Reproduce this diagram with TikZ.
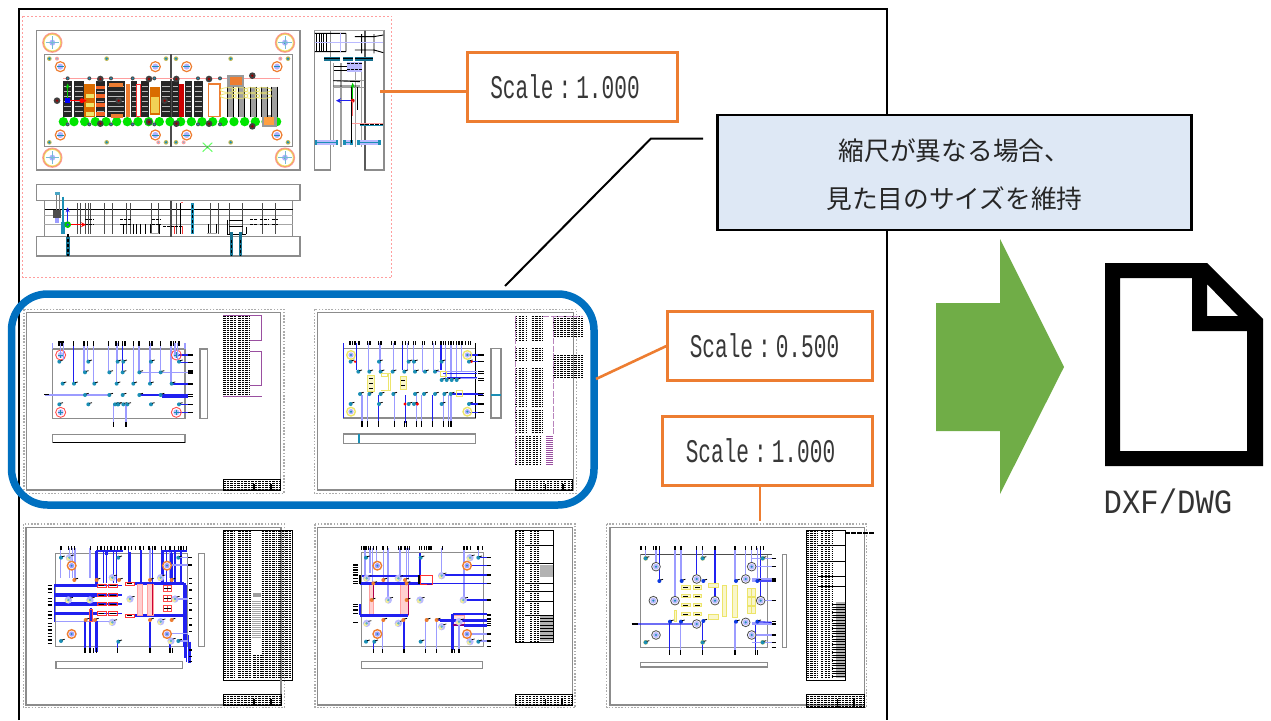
\documentclass[tikz,border=0pt]{standalone}
\usepackage{fontspec}
\usetikzlibrary{arrows.meta}
\newfontfamily\jpfont{Noto Sans CJK JP}
\newfontfamily\gothic[FakeStretch=0.64]{Liberation Mono}
\newfontfamily\gothicw[FakeStretch=0.9]{Liberation Mono}
\definecolor{orangeb}{HTML}{ED7D31}
\definecolor{blueb}{HTML}{0070C0}
\definecolor{paleb}{HTML}{DEE8F5}
\definecolor{greena}{HTML}{70AD47}
\definecolor{tealc}{HTML}{1B8FB5}
\definecolor{leadl}{HTML}{9C9CFF}
\definecolor{leadd}{HTML}{2020F0}
\definecolor{pinkl}{HTML}{FF9E9E}
\definecolor{yelc}{HTML}{EDE56B}
\definecolor{purp}{HTML}{9A4FA0}
\definecolor{gsh}{HTML}{8C8C8C}
\tikzset{
  scalebox/.style={draw=orangeb,line width=3pt,fill=white,minimum height=69pt,outer sep=0pt,inner sep=0pt,font=\fontsize{33}{36}\selectfont\gothic,text=black!78},
  orangeline/.style={draw=orangeb,line width=2.6pt},
  shdash/.style={draw=gray!65,line width=1.1pt,dash pattern=on 1.6pt off 1.6pt},
  shline/.style={draw=gsh,line width=1.5pt},
  tbrow/.style={draw=black,line width=.95pt,dash pattern=on 2.4pt off 1.1pt},
  ll/.style={draw=leadl,line width=1.1pt},
  ld/.style={draw=leadd,line width=1.1pt},
  lt/.style={draw=leadd,line width=2.4pt},
  lbl/.style={draw=black,line width=1.6pt},
  yb/.style={draw=yelc,line width=.9pt,fill=yelc!35},
}
\newcommand{\tblk}[4]{\pgfmathtruncatemacro\tba{#2+6}\foreach \r in {#2,\tba,...,#4}{\draw[tbrow] (#1,\r)--(#3,\r);}}
\newcommand{\tkd}[3][tealc]{\fill[#1] (#2,#3) circle[radius=6];\draw[black,line width=.8pt] (#2+3,#3-3)--(#2+11,#3-5);}
\newcommand{\pald}[2]{\fill[leadl!70] (#1,#2) circle[radius=11];\fill[yelc!70] (#1-3,#2+3) circle[radius=6];\fill[tealc!70] (#1,#2) circle[radius=4];\draw[black,line width=.7pt] (#1+5,#2-6)--(#1+14,#2-8);}
\newcommand{\ring}[2]{\draw[orangeb,line width=1.4pt,fill=white] (#1,#2) circle[radius=13];\fill[leadl] (#1,#2) circle[radius=8];\fill[tealc] (#1,#2) circle[radius=3];}
\newcommand{\sheetf}[8]{\draw[shdash] (#1,#2) rectangle (#3,#4);\draw[shline] (#5,#6) rectangle (#7,#8);}
\newcommand{\ttlb}[4]{\draw[black,line width=.7pt] (#1,#2) rectangle (#3,#4);\tblk{#1}{#2}{#3}{#4}\draw[black,line width=1.6pt] (#1+92,#2+14)--(#1+92,#4);\draw[black,line width=2pt] (#3-30,#2+16)--(#3-30,#4);}
\begin{document}
\begin{tikzpicture}[x=1pt,y=-1pt]
\path[use as bounding box] (0,0) rectangle (1271,720);
% outer frame
\draw[black,line width=2pt] (19,720)--(19,9)--(887,9)--(887,720);

% ---------- top assembly drawing
\begin{scope}[shift={(20,10)},scale=1/3]
\draw[pinkl,line width=1pt,dash pattern=on 2pt off 2pt] (8,18) rectangle (1116,803);
\draw[gsh,line width=1.3pt] (50,62) rectangle (840,480);
\draw[gsh,line width=1.3pt] (73,133) rectangle (818,410);
\draw[gray!60!black,line width=1.4pt] (453,133)--(453,410);
\draw[pinkl,line width=.8pt] (130,205)--(780,205);
\foreach \x in {130,162,...,780}{\fill[green!90!black] (\x,335) circle[radius=14];}
% columns
\foreach \a/\b in {128/157,163/192,228/256,262/316,333/350,364/386,423/452,455/478,494/517,522/548}{\fill[black!85] (\a,212) rectangle (\b,322);\foreach \q in {230,245,...,315}{\draw[gray!55,line width=.8pt] (\a+3,\q)--(\b-3,\q);}}
\fill[orange!85!black] (193,222) rectangle (226,322);
\foreach \q in {258,285,312}{\fill[yelc] (197,\q-7) rectangle (223,\q+7);}
\foreach \q in {232,258,285,312}{\fill[orangeb!80!red] (228,\q-5) rectangle (256,\q+5);}
\fill[orangeb] (268,220) rectangle (308,232);\fill[orangeb] (272,312) rectangle (308,325);
\fill[orangeb] (318,222) rectangle (330,322);
\draw[red!80,line width=1pt,fill=white] (350,222) rectangle (362,320);
\fill[orange!85!black] (390,230) rectangle (420,315);\fill[yelc!80!orange] (394,260) rectangle (416,310);
\fill[red!80!black] (478,222) rectangle (492,322);
\draw[orangeb,line width=1.4pt,fill=white] (565,222) rectangle (600,320);
\fill[gray!80] (622,195) rectangle (672,230);\fill[orangeb] (630,200) rectangle (665,225);
\fill[gray!80] (725,315) rectangle (770,350);\fill[orange!75] (732,322) rectangle (763,345);
\foreach \x in {622,655,690,725,755}{\fill[gray!75] (\x,230) rectangle (\x+18,320);\draw[black,line width=.6pt] (\x,230)--(\x,320) (\x+18,230)--(\x+18,320);}
\foreach \x/\y in {625/240,660/240,695/240,730/240,625/258,660/258,695/258,730/258}{\draw[yelc,line width=.8pt] (\x,\y) ellipse [x radius=24,y radius=7];}
\foreach \x in {143,208,273,338,403,469,534,600}{\fill[black!70] (\x,205) circle[radius=6];\fill[tealc] (\x,205) circle[radius=3];\fill[black!70] (\x,343) circle[radius=6];\fill[tealc] (\x,343) circle[radius=3];}
\foreach \x/\y in {241/207,387/207,469/207,567/207,697/197,241/341,387/336,469/341,567/341,697/349,111/272,296/272,434/272}{\fill[black!75] (\x,\y) circle[radius=10];\fill[red!60!black] (\x,\y) circle[radius=4];}
% dowels
\foreach \x in {88,260,438,468,632,804}{\foreach \yy in {146,397}{\fill[yelc!80!black] (\x,\yy) circle[radius=7];\fill[tealc] (\x,\yy) circle[radius=4];}}
\foreach \x/\y in {111/146,781/146,415/397,491/397}{\fill[pinkl] (\x,\y) circle[radius=6];\fill[tealc!60] (\x,\y) circle[radius=2.5];}
% guide bushes
\foreach \x in {121,406,500,771}{\foreach \y in {170,375}{\draw[orangeb,line width=1.2pt,fill=white] (\x,\y) circle[radius=15];\fill[leadl!80] (\x,\y) circle[radius=9];\draw[tealc,line width=.8pt] (\x-10,\y)--(\x+10,\y);}}
% corner circles
\foreach \x in {97,795}{\foreach \y in {98,443}{\draw[pinkl,line width=1pt] (\x,\y) circle[radius=29];\draw[yelc,line width=1pt] (\x,\y) circle[radius=25];\draw[orangeb!80,line width=.6pt] (\x,\y) circle[radius=27];\fill[leadl!80] (\x,\y) circle[radius=9];\fill[tealc] (\x,\y) circle[radius=4];\draw[tealc!60,line width=.5pt] (\x-20,\y)--(\x+20,\y) (\x,\y-20)--(\x,\y+20);}}
\draw[green!60,line width=1pt] (548,398)--(577,425) (548,425)--(577,398);
\fill[green!60!black!70] (562,411) circle[radius=4];
% axes
\fill[blue] (136,265) rectangle (150,279);
\draw[green!80!black,line width=1.6pt,-{Stealth[length=5pt,width=4pt]}] (143,265)--(143,220);
\draw[red,line width=1.6pt,-{Stealth[length=5pt,width=5pt]}] (150,272)--(200,272);
\fill[red] (185,272) circle[radius=7];
% side view
\draw[gsh,line width=1.3pt] (883,62) rectangle (932,480);
\draw[gsh,line width=1.3pt] (1035,62) rectangle (1092,480);
\draw[gray!75,line width=.8pt] (883,62)--(1092,62) (940,160)--(940,410) (960,160)--(960,410) (965,160)--(965,410) (1005,160)--(1005,410) (1025,160)--(1025,410) (940,212)--(1035,212) (940,232)--(1035,232);
\draw[black,line width=.9pt] (1035,62)--(1035,480) (885,70)--(978,70) (885,125)--(978,125) (978,70)--(978,125) (1005,80)--(1060,80) (1005,120)--(1060,120) (1025,72)--(1025,130) (1062,72)--(1062,130) (1062,80)--(1090,75) (1062,120)--(1090,128);
\foreach \x in {890,898,905,912,920}{\draw[black,line width=1pt] (\x,70)--(\x,125);}
\draw[leadl!70,line width=.8pt] (885,98)--(1090,98);\draw[leadl!70,line width=.8pt] (960,70)--(960,125);
\foreach \a/\b in {912/960,970/1000,1005/1060}{\fill[tealc!80!black] (\a,141) rectangle (\b,152);\draw[black,line width=.5pt] (\a,146)--(\b,146);}
\foreach \y in {168,182}{\draw[black,line width=1pt] (942,\y)--(1025,\y);}
\fill[leadl!70] (980,155) rectangle (1025,185);\draw[black,line width=1pt,dash pattern=on 3pt off 1pt] (980,160)--(1025,160) (980,178)--(1025,178);
\draw[black,line width=.9pt] (940,212)--(1020,215) (940,228)--(1020,228);
\draw[pinkl,line width=.8pt] (993,340)--(1090,340);
\draw[black,line width=1pt,dash pattern=on 4pt off 1pt] (1020,344)--(1090,344);\draw[tealc,line width=.8pt] (1020,347)--(1090,347);
\foreach \a/\b in {885/955,970/998,1012/1082}{\fill[leadl!70] (\a,391) rectangle (\b,404);\draw[tealc,line width=.8pt] (\a,397)--(\b,397);\fill[tealc] (\a,391) rectangle (\a+7,404);\fill[tealc] (\b-7,391) rectangle (\b,404);}
\draw[black,line width=.8pt] (995,232)--(995,400) (1012,232)--(1012,300);
\draw[leadd,line width=1.6pt,-{Stealth[length=5pt,width=5pt]}] (998,272)--(948,272);
\draw[green!80!black,line width=1.6pt,-{Stealth[length=5pt,width=4pt]}] (998,272)--(998,218);
\fill[red!85!black] (998,272) circle[radius=6];
\draw[red!60,line width=.6pt] (998,272)--(998,318);
% front view
\draw[gsh,line width=1.3pt] (50,523) rectangle (840,572);
\draw[gsh,line width=1.3pt] (50,680) rectangle (840,738);
\draw[gsh,line width=1pt] (73,572) rectangle (818,680);
\draw[gray!70,line width=.8pt] (73,615)--(818,615) (73,643)--(818,643);
\draw[black,line width=1.1pt] (75,598)--(818,598);
\draw[gray!60!black,line width=1.4pt] (453,572)--(453,680);
\foreach \x in {172,180,195,205,212,252,278,318,330,395,415,470,572,596,628,668,727,766}{\draw[black!70,line width=.7pt] (\x,580)--(\x,672);}
\foreach \a/\b in {195/222,300/335,395/420,720/745,690/710,755/775}{\draw[black,line width=1pt,dash pattern=on 3pt off 1pt] (\a,630)--(\b,630) (\a,645)--(\b,645);}
\foreach \a in {310,340,350,360,375,392,418,565,590}{\draw[black,line width=.8pt] (\a,643)--(\a,672);}
\draw[gray!70,line width=.8pt] (390,670)--(418,670) (562,670)--(590,670);
\draw[black,line width=1.2pt,dash pattern=on 3pt off 1pt] (430,650)--(490,650);
\draw[red!80,line width=1pt] (462,648)--(462,672);\draw[red!80,line width=1.2pt] (488,648)--(488,672);\draw[black,line width=1pt] (482,580)--(482,672);
\draw[red!60,line width=1pt] (482,578)--(488,578);
\draw[tealc,line width=2.4pt] (518,580)--(518,672);\draw[black,line width=1pt,dash pattern=on 3pt off 2pt] (518,585)--(518,672);
\draw[black,line width=.8pt] (622,630)--(622,672) (628,632)--(668,632) (628,650)--(668,650) (678,652)--(678,672) (622,672)--(678,672);
\fill[tealc!80] (104,545) rectangle (119,556);\draw[gray,line width=1pt] (108,556)--(108,610) (118,556)--(118,610);
\fill[black!70] (100,600) rectangle (122,625);\fill[leadl] (106,625) rectangle (116,640);
\fill[tealc] (124,635) rectangle (134,672);
\draw[tealc,line width=2pt] (129,560)--(129,672);
\fill[tealc!80!black] (138,680) rectangle (150,738);\draw[black,line width=1.3pt,dash pattern=on 3pt off 2pt] (144,672)--(144,738);
\foreach \x in {634,662}{\fill[tealc!80!black] (\x-5,665) rectangle (\x+5,738);\draw[black,line width=1.2pt,dash pattern=on 3pt off 2pt] (\x,690)--(\x,738);}
\draw[leadd,line width=1.6pt,-{Stealth[length=5pt,width=4pt]}] (143,640)--(143,592);
\draw[red,line width=1.6pt,-{Stealth[length=5pt,width=5pt]}] (143,644)--(198,644);
\fill[green!80!black] (143,644) circle[radius=10];\fill[blue!80] (143,644) circle[radius=4];
\end{scope}

% ---------- sheet A
\begin{scope}[shift={(10,290)},scale=1/3]
\sheetf{42}{58}{822}{610}{50}{67}{812}{600}
\tblk{640}{78}{680}{318}\tblk{685}{78}{720}{318}
\draw[purp,line width=.7pt] (640,77)--(755,77) (640,318)--(755,318) (755,77)--(755,150) (755,185)--(755,285) (720,150)--(755,150) (720,185)--(755,185) (720,285)--(755,285);
\ttlb{640}{567}{812}{600}
\draw[gsh,line width=1.3pt] (128,177) rectangle (525,386);
\draw[gsh,line width=1.4pt] (570,177) rectangle (592,386);
\draw[gsh,line width=1.4pt] (128,433) rectangle (525,457);\draw[black,line width=.7pt] (128,457)--(525,457);
\foreach \x/\y in {191/281,222/247,233/215,251/281,296/247,320/281,323/215,370/281,387/247,420/281,451/240,483/281}{\draw[ll] (\x,160)--(\x,\y);}
\draw[ld] (337,160)--(337,245);\draw[ld] (191,160)--(191,281);
\draw[ld] (480,282)--(535,282) (390,315)--(535,315) (455,321)--(535,321) (505,343)--(535,343) (500,195)--(535,195) (510,218)--(535,218) (500,368)--(535,368);
\draw[ll] (390,247)--(535,247) (105,315)--(298,315) (128,160)--(128,177) (525,160)--(525,177);
\draw[ll] (310,343)--(310,400) (348,343)--(348,400);
\foreach \y in {215,343}{\foreach \x in {148,235,323,340,423,507}{\tkd{\x}{\y}}}
\foreach \x in {225,298,338,388,452}{\tkd{\x}{247}\tkd{\x}{315}}
\foreach \x in {158,192,253,320,370,420,485}{\tkd{\x}{281}}
\foreach \x in {315,325,352}{\tkd{\x}{343}}
\foreach \x in {147,153,159,191,222,232,251,296,318,325,338,345,370,387,419,426,451,483,490,497,507}{\draw[lbl] (\x,154)--(\x,167);}
\foreach \x in {310,348}{\draw[lbl] (\x,397)--(\x,411);}
\foreach \y in {195,218,243,249,282,313,320,343,368}{\draw[lbl] (535,\y)--(549,\y);}
\draw[lbl] (103,314)--(118,314);
\foreach \x/\y in {152/195,499/195,152/367,499/367}{\draw[red!70,line width=.9pt] (\x,\y) circle[radius=15];\fill[leadl!70] (\x,\y) circle[radius=9];\draw[tealc,line width=.7pt] (\x-8,\y)--(\x+8,\y) (\x,\y-8)--(\x,\y+8);}
\draw[leadl,line width=1.1pt] (152,160)--(152,195) (160,160)--(160,210) (495,160)--(495,195) (503,160)--(503,210);
\end{scope}

% ---------- sheet B
\begin{scope}[shift={(300,290)},scale=1/3]
\sheetf{44}{58}{830}{610}{53}{67}{820}{600}
\foreach \a/\b/\c/\d in {645/680/78/155,695/730/78/155,645/680/175/215,695/730/175/215,645/680/235/350,695/730/235/350,645/680/362/430,695/730/362/430,645/720/440/525,760/850/78/140,760/850/195/265}{\tblk{\a}{\c}{\b}{\d}}
\fill[purp] (737,438) rectangle (760,525);\foreach \q in {442,448,...,522}{\draw[white,line width=.5pt] (737,\q)--(760,\q);}
\draw[purp!70,line width=.9pt,dash pattern=on 6pt off 1.5pt] (645,77)--(645,525) (760,77)--(760,435) (730,78)--(850,78);
\ttlb{645}{567}{818}{600}
\draw[gsh,line width=1.3pt] (130,175)--(527,175);\draw[gsh,line width=1.3pt] (130,384)--(527,384);
\draw[gsh,line width=1.4pt] (573,175) rectangle (603,384);\draw[tealc,line width=1.6pt] (573,315)--(603,315);
\draw[gsh,line width=1.4pt] (130,432) rectangle (527,460);\fill[tealc] (175,432) rectangle (181,460);
\draw[black,line width=1.2pt] (527,160)--(527,384);\draw[leadd,line width=1pt] (130,160)--(130,384);
\foreach \x/\y in {205/245,240/245,280/245,322/240,340/240,367/245,400/240,437/265,453/265,470/265,485/245}{\draw[ll] (\x,160)--(\x,\y);}
\draw[ld] (170,160)--(170,240) (307,160)--(307,240) (423,160)--(423,240);
\foreach \x in {186,202,283,350,364,430,445,453}{\draw[ll] (\x,315)--(\x,400);}
\draw[ld] (235,315)--(235,400) (397,315)--(397,400);
\draw[leadd,line width=1.4pt] (316,315)--(316,400);
\draw[ll] (405,245)--(530,245) (425,265)--(530,265);
\draw[ld] (440,262)--(530,262) (430,250)--(530,250) (450,312)--(550,312);
\draw[ld] (505,195)--(545,195) (510,215)--(545,215) (505,342)--(545,342) (505,367)--(545,367);
\foreach \x in {175,208,242,278,313,345,375,405}{\tkd{\x}{245}}
\foreach \x in {425,440,455,470}{\tkd{\x}{270}}
\foreach \x in {180,208,242,280,345,372,405,433,452}{\tkd{\x}{312}}
\foreach \x in {152,237,326,342,425,507}{\tkd{\x}{215}\tkd{\x}{342}}
\fill[red] (315,342) circle[radius=5];\fill[red] (352,342) circle[radius=5];\fill[red] (165,215) circle[radius=4];\fill[red] (515,215) circle[radius=4];
\draw[yb] (203,255) rectangle (222,305);
\foreach \y in {265,280,295}{\draw[black,line width=.7pt] (207,\y)--(218,\y);}
\draw[yb] (300,260) rectangle (318,298);
\foreach \y in {270,285}{\draw[black,line width=.7pt] (304,\y)--(314,\y);}
\draw[yelc,line width=1pt] (243,250) rectangle (262,258) (264,250) rectangle (272,302) (243,302)--(272,302);
\draw[yelc,line width=1pt] (420,243) rectangle (440,258) (468,302) rectangle (488,318);
\foreach \x/\y in {153/195,502/195,153/365,502/365}{\draw[yelc,line width=1.4pt] (\x,\y) circle[radius=13];\fill[leadl!80] (\x,\y) circle[radius=8];\fill[tealc] (\x,\y) circle[radius=3.5];}
\foreach \x in {150,158,165,177,203,210,235,243,275,285,307,316,326,340,347,367,373,398,406,423,430,437,445,453,460,470,477,486,497,505,511}{\draw[lbl] (\x,153)--(\x,166);}
\foreach \x in {186,202,235,283,313,320,350,364,397,430,445,453}{\draw[lbl] (\x,394)--(\x,410);}
\foreach \y in {195,215,244,250,266,272,310,316,342,367}{\draw[lbl] (535,\y)--(552,\y);}
\end{scope}

% ---------- sheet C
\begin{scope}[shift={(15,515)},scale=1/3]
\sheetf{25}{27}{808}{578}{33}{37}{798}{570}
\foreach \a/\b/\c/\d in {625/660/48/490,670/712/48/490,715/740/420/490,740/785/48/490,790/832/48/490}{\tblk{\a}{\c}{\b}{\d}}
\draw[black,line width=.8pt] (625,47) rectangle (832,495);
\fill[gray!75] (715,235) rectangle (738,245);\fill[white] (712,255) rectangle (740,370);
\foreach \q in {260,266,...,368}{\draw[gray!70,line width=.5pt] (712,\q)--(738,\q);}
\draw[gsh,line width=1.2pt] (798,495)--(798,537);
\ttlb{625}{537}{798}{570}
\draw[gsh,line width=1.3pt] (122,115) rectangle (518,395);
\draw[gsh,line width=1.4pt] (550,115) rectangle (568,395);
\draw[gsh,line width=1.4pt] (123,440) rectangle (502,460);
\foreach \x in {137,163,172,180,225,405,465}{\draw[ll] (\x,100)--(\x,190);}
\foreach \x in {245,265,275,295,305,340,378,412,440,455,470,480,498}{\draw[ld] (\x,105)--(\x,205);}
\draw[lt] (245,108)--(245,210) (275,108)--(275,120) (378,112)--(378,205) (442,112)--(442,205) (470,115)--(470,205) (345,112)--(345,205);
\draw[ld] (245,108)--(325,108) (440,108)--(515,108);
\foreach \y in {212,240,267,295}{\draw[leadd,line width=3.4pt] (118,\y)--(248,\y);\draw[ld] (248,\y)--(320,\y);\draw[red!80,line width=.9pt] (247,\y-5) rectangle (274,\y+5) (279,\y-5) rectangle (307,\y+5);\draw[black,line width=1pt] (252,\y)--(268,\y) (285,\y)--(302,\y);}
\foreach \y in {206,302}{\draw[leadd,line width=3.4pt] (358,\y)--(507,\y);\draw[red!80,line width=.9pt] (330,\y-5) rectangle (357,\y+5);\draw[black,line width=1pt] (335,\y)--(352,\y);}
\fill[pinkl!50] (366,207) rectangle (382,300);\fill[pinkl!50] (398,207) rectangle (415,300);
\draw[pinkl,line width=.8pt] (366,207) rectangle (382,300) (398,207) rectangle (415,300);
\draw[red!80!blue,line width=1.2pt] (412,207)--(412,300);
\foreach \y in {210,240,270}{\draw[red!70,line width=.8pt] (444,\y) rectangle (457,\y+20) (458,\y) rectangle (470,\y+20);\draw[black,line width=.8pt] (447,\y+10)--(468,\y+10);}
\draw[leadl,line width=1.2pt] (122,320)--(300,320);\draw[ld] (118,208)--(118,320);
\draw[ld] (210,315)--(210,410) (225,315)--(225,405) (307,380)--(307,410) (405,320)--(405,410) (465,380)--(465,410);
\draw[lt] (245,318)--(245,412);\draw[lt] (228,280)--(228,318);
\draw[red!70,line width=.9pt] (222,282) rectangle (232,318);
\draw[ld] (505,205)--(505,395) (510,205)--(510,430) (515,210)--(515,440) (520,360)--(520,445) (525,380)--(525,445);
\draw[ll] (470,150)--(520,150) (456,355)--(520,355) (480,252)--(520,252) (490,128)--(520,128) (490,378)--(520,378);
\foreach \x/\y in {138/128,310/128,490/128,138/378,310/380,490/378}{\tkd{\x}{\y}}
\foreach \x/\y in {163/128,292/188,437/188,160/255,225/255,345/252,480/252,292/322,437/320,468/378}{\pald{\x}{\y}}
\foreach \x/\y in {178/195,245/195,312/195,405/195,470/195,212/315,240/315,405/315,470/315}{\tkd[orangeb]{\x}{\y}}
\foreach \x/\y in {170/152,456/152,170/357,456/357}{\ring{\x}{\y}}
\foreach \x in {138,160,170,178,226,248,258,268,278,288,298,308,318,330,340,350,362,375,385,402,412,420,440,452,465,478,490,498,506,514}{\draw[lbl] (\x,93)--(\x,105);}
\foreach \x in {210,225,235,245,307,405,465,472}{\draw[lbl] (\x,400)--(\x,415);}
\foreach \y in {212,222,232,250,260,270,290,300,310,325,335,345,355,365,375,385}{\draw[lbl] (98,\y)--(112,\y);}
\foreach \y in {190,205,225,250,265,285,310,330,350,405,425,440}{\draw[lbl] (522,\y)--(530,\y);}
\draw[lbl] (520,128)--(530,128) (520,150)--(530,150);
\end{scope}

% ---------- sheet D
\begin{scope}[shift={(305,515)},scale=1/3]
\sheetf{30}{27}{810}{578}{38}{37}{802}{570}
\foreach \a/\b/\c/\d in {630/660/48/380,675/705/48/380}{\tblk{\a}{\c}{\b}{\d}}
\draw[black,line width=.7pt] (630,47) rectangle (745,383);
\fill[gray!60] (705,150) rectangle (745,185);\fill[gray!60] (705,302) rectangle (745,378);
\foreach \q in {310,320,...,370}{\draw[black,line width=.6pt] (705,\q)--(745,\q);}
\foreach \q in {90,145,205,230,260,300}{\draw[black,line width=.6pt] (660,\q)--(745,\q);}
\ttlb{630}{537}{802}{570}
\draw[gsh,line width=1.3pt] (170,113) rectangle (535,394);
\draw[gsh,line width=1.4pt] (170,440) rectangle (533,460);
\fill[pinkl!50] (193,207) rectangle (205,300);\draw[pinkl,line width=.8pt] (193,207) rectangle (205,300);
\fill[pinkl!50] (285,207) rectangle (310,300);\draw[pinkl,line width=.8pt] (285,207) rectangle (310,300);
\draw[red!70!blue,line width=1.1pt] (205,207)--(205,250) (310,207)--(310,300);
\foreach \x/\y in {180/190,195/175,203/205,215/150,235/195,249/255,285/185,305/195,310/195,410/180,477/150,477/250,520/128}{\draw[ll] (\x,100)--(\x,\y);}
\draw[lt] (345,115)--(345,205);
\draw[ld] (170,183)--(345,183);\draw[lt] (165,205)--(345,205);\draw[ld] (345,205)--(545,205);\draw[black,line width=1.6pt] (165,180)--(165,207) (342,180)--(342,207);
\draw[ld] (410,180)--(545,180) (486,152)--(545,152) (520,128)--(545,128) (475,255)--(545,255);
\draw[red!80,line width=1pt] (345,182) rectangle (382,208);\draw[red!50!blue,line width=1.2pt] (365,208)--(382,208);
\draw[ld] (165,268)--(165,300);\draw[lt] (165,301)--(310,301);
\fill[pinkl!30] (443,300) rectangle (478,330);\draw[pinkl,line width=.9pt] (443,300) rectangle (478,330);
\draw[lt] (443,297)--(443,405);\draw[ld] (443,297)--(545,297) (395,315)--(545,315) (405,320)--(545,320);\draw[leadd,line width=3pt] (478,330)--(545,330);\draw[red!50!blue,line width=1.6pt] (443,330)--(478,330);
\draw[ll] (480,357)--(545,357) (520,378)--(545,378) (462,330)--(462,405);
\foreach \x/\y in {233/315,297/315,362/315,395/315,205/380}{\draw[ll] (\x,\y)--(\x,408);}
\draw[ld] (297,315)--(297,408);
\draw[ld] (205,380)--(205,408);
\foreach \x/\y in {183/128,347/128,520/128,183/380,208/380,347/380,520/380}{\tkd{\x}{\y}}
\foreach \x/\y in {495/128,495/380,185/190,280/190,410/182,250/255,345/255,475/255,185/325,280/325,410/335,462/320}{\pald{\x}{\y}}
\foreach \x/\y in {235/195,300/195,235/315,295/315,365/315,395/315,205/205,305/205,200/255,305/255}{\tkd[orangeb]{\x}{\y}}
\foreach \x/\y in {217/152,486/152,217/357,486/357}{\ring{\x}{\y}}
\foreach \x in {170,177,183,190,197,205,215,234,248,281,288,300,307,314,343,350,358,365,372,378,412,477,486,497,519,532}{\draw[lbl] (\x,93)--(\x,105);}
\foreach \x in {205,233,297,362,395,441,449,462}{\draw[lbl] (\x,402)--(\x,415);}
\foreach \y in {150,157,165,172,180,190,200,205,268,275,285,295,322}{\draw[lbl] (145,\y)--(160,\y);}
\foreach \y in {128,152,180,205,255,300,312,320,326,332,357,378,394}{\draw[lbl] (545,\y)--(558,\y);}
\end{scope}

% ---------- sheet E
\begin{scope}[shift={(595,515)},scale=1/3]
\sheetf{35}{27}{815}{578}{45}{37}{808}{570}
\foreach \a/\b/\c/\d in {635/668/48/490,678/710/48/490}{\tblk{\a}{\c}{\b}{\d}}
\draw[black,line width=.7pt] (635,47) rectangle (750,495);
\fill[gray!60] (722,262) rectangle (750,490);
\foreach \q in {268,276,...,488}{\draw[black,line width=.5pt] (710,\q)--(750,\q);}
\foreach \q in {92,140,185,215}{\draw[black,line width=.8pt] (668,\q)--(750,\q);}
\draw[black,line width=2.2pt,dash pattern=on 5pt off 1pt] (750,55)--(838,55);
\ttlb{635}{537}{808}{578}
\draw[gsh,line width=1.3pt] (137,118) rectangle (518,398);
\draw[gsh,line width=1.4pt] (563,118) rectangle (575,398);
\draw[gsh,line width=1.4pt] (137,443) rectangle (518,456);
\draw[black!70,line width=.8pt] (137,118)--(530,118);
\foreach \x/\y in {152/130,183/155,240/257,258/198,323/130,420/198,452/192,470/155,487/198}{\draw[ll] (\x,100)--(\x,\y);}
\draw[ld] (305,100)--(305,192) (360,100)--(360,257);\draw[leadd,line width=1.5pt] (193,100)--(193,198) (497,100)--(497,257);
\draw[ld] (224,320)--(224,410) (322,320)--(322,410);\draw[ll] (257,320)--(257,410) (420,320)--(420,410);\draw[ld] (482,320)--(482,410);
\foreach \y in {130,155,192,198,257,322,327,360,382}{\draw[ll] (470,\y)--(530,\y);}
\draw[ld] (487,198)--(530,198) (487,320)--(530,322) (115,327)--(305,327);
\foreach \y in {217,243,270,297}{\draw[yb] (260,\y-5) rectangle (285,\y+5) (295,\y-5) rectangle (320,\y+5);\draw[black,line width=1pt] (265,\y)--(280,\y) (300,\y)--(314,\y);}
\draw[yb] (340,205) rectangle (370,216) (340,298) rectangle (370,312) (381,210) rectangle (393,305) (413,210) rectangle (427,308) (237,287) rectangle (245,320);
\foreach \y in {220,247,273}{\draw[yb] (457,\y) rectangle (468,\y+23) (469,\y) rectangle (480,\y+23);}
\foreach \x/\y in {183/155,470/155,305/192,452/192,175/257,240/257,360/257,497/257,305/327,452/322,183/360,470/360}{\draw[black!70,line width=.8pt,fill=white] (\x,\y) circle[radius=13];\fill[leadl!70] (\x,\y) circle[radius=9];\fill[tealc] (\x,\y) circle[radius=3.5];}
\foreach \x/\y in {152/130,323/130,503/130,152/382,323/382,503/382}{\fill[yelc!80!black] (\x,\y) circle[radius=7];\tkd{\x}{\y}}
\foreach \x/\y in {193/198,260/198,325/198,423/198,487/198,225/320,258/320,325/318,423/320,487/320}{\tkd[blue!60!tealc]{\x}{\y}}
\foreach \x in {138,152,175,183,193,240,258,305,323,360,420,452,470,485,497,505}{\draw[lbl] (\x,93)--(\x,106);}
\foreach \x in {224,257,322,420,482,488}{\draw[lbl] (\x,406)--(\x,420);}
\foreach \y in {130,155,192,198,257,320,327,360,383,398}{\draw[lbl] (530,\y)--(544,\y);}
\draw[lbl] (110,327)--(128,327);
\end{scope}

% ---------- blue rounded frame
\draw[blueb,line width=7.5pt,rounded corners=36pt] (11.5,294) rectangle (594,505);

% ---------- callouts
\node[scalebox,minimum width=210pt] (s1) at (572.5,87) {\hspace*{-15pt}Scale\hspace{5pt}:\hspace{5pt}1.000};
\node[scalebox,minimum width=205pt] (s2) at (770,345.5) {\hspace*{-11pt}Scale\hspace{5pt}:\hspace{5pt}0.500};
\node[scalebox,minimum width=210pt] (s3) at (767.5,451) {\hspace*{-14pt}Scale\hspace{5pt}:\hspace{5pt}1.000};
\coordinate (c1) at (380,91.5);
\coordinate (c2) at (596,379);
\coordinate (c3) at (760,521);
\draw[orangeline] (c1)--(s1.west|-c1);
\draw[orangeline] (c2)--(s2.west);
\draw[orangeline] (c3)--(c3|-s3.south);

\node[draw=black,line width=2.6pt,fill=paleb,minimum width=474pt,minimum height=115pt,align=center,inner sep=0pt,font=\fontsize{25.7}{48}\selectfont\jpfont,text=black!85,text depth=0pt] (note) at (954.5,172.5) {\raisebox{-1.5pt}{縮尺が異なる場合、}\\\raisebox{-1.5pt}{見た目のサイズを維持}};
\coordinate (l1) at (505,286);
\coordinate (l2) at (651,138.5);
\coordinate (l3) at (703,138.5);
\draw[black,line width=2pt] (l1)--(l2)--(l3);

% ---------- arrow
\fill[greena] (936,303)--(1000,303)--(1000,239)--(1064,367)--(1000,494)--(1000,431)--(936,431)--cycle;

% ---------- document icon
\fill[black,even odd rule] (1105,263)--(1207,263)--(1263,319)--(1263,466)--(1105,466)--cycle
  (1120,278)--(1192,278)--(1192,331)--(1247,331)--(1247,451)--(1120,451)--cycle
  (1207,284)--(1207,316)--(1238,316)--cycle;
\node[inner sep=0pt,anchor=center,font=\fontsize{34}{38}\selectfont\gothicw,text=black!80] (dxf) at (1168,501) {DXF/DWG};
\end{tikzpicture}
\end{document}
